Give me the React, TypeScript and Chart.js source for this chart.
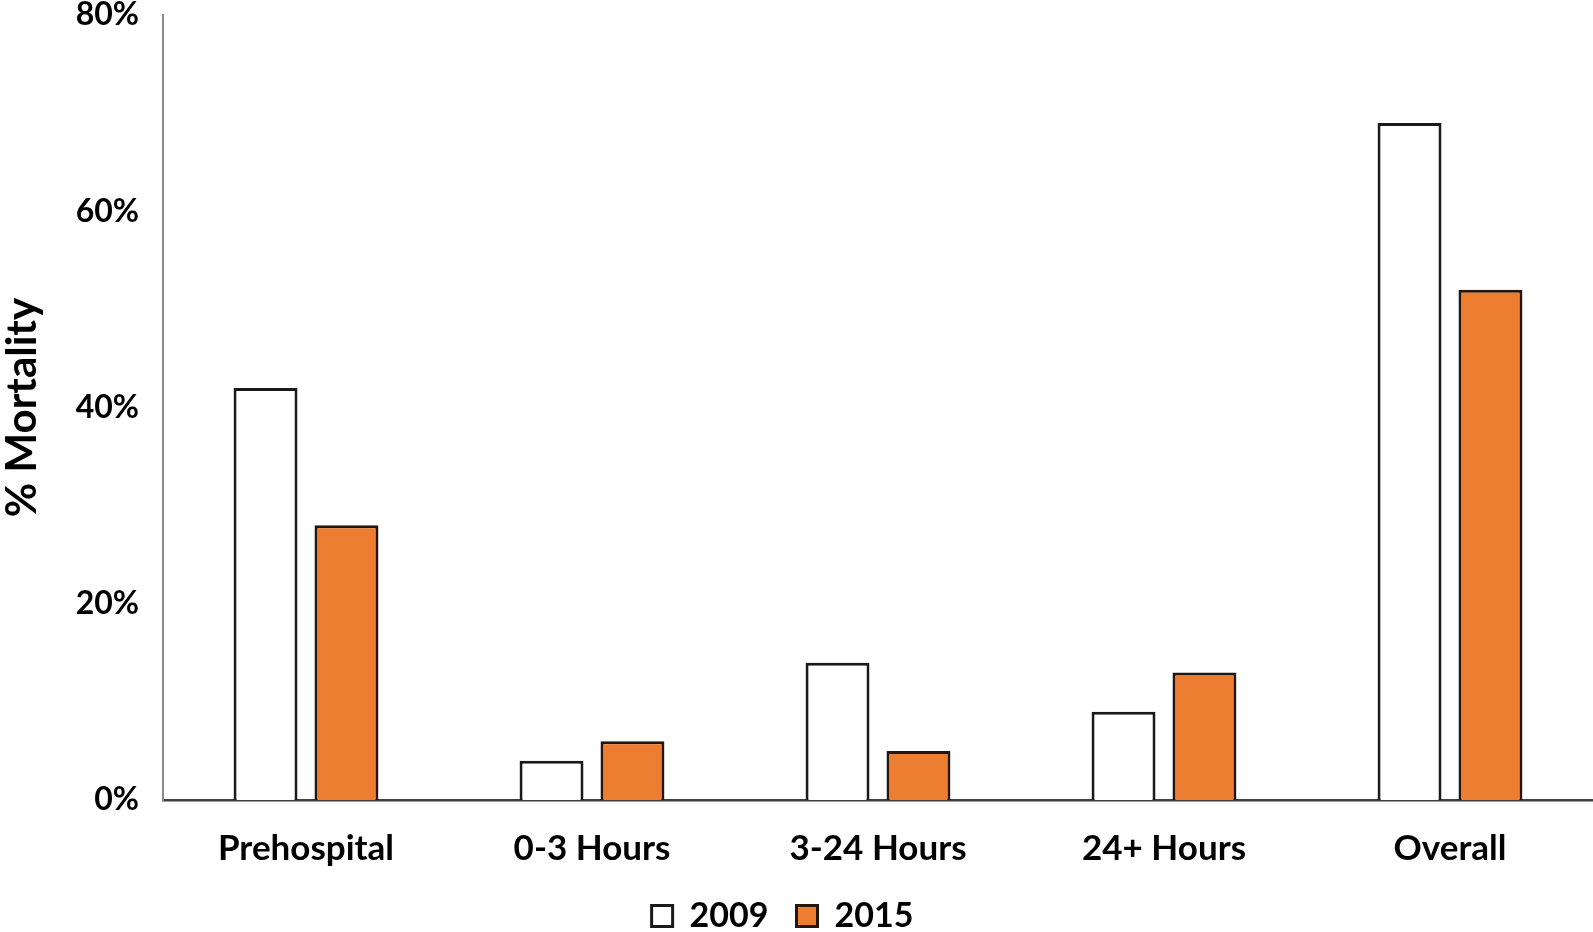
import React, { useEffect, useRef } from "react";
import { Chart, registerables } from "chart.js";

Chart.register(...registerables);

const categories = ["Prehospital", "0-3 Hours", "3-24 Hours", "24+ Hours", "Overall"];
const values2009 = [42, 4, 14, 9, 69];
const values2015 = [28, 6, 5, 13, 52];
const seriesNames = ["2009", "2015"];
const yTicks = [0, 20, 40, 60, 80];

const FONT = "Lato, 'Open Sans', sans-serif";

const legendShift = {
  id: "legendShift",
  afterLayout(chart: any) {
    if (chart.legend) {
      chart.legend.left -= 14;
      chart.legend.right -= 14;
    }
  },
};

export default function App() {
  const ref = useRef<HTMLCanvasElement | null>(null);

  useEffect(() => {
    document.body.style.margin = "0";
    const canvas = ref.current;
    if (!canvas) return;
    const chart = new Chart(canvas, {
      type: "bar",
      data: {
        labels: categories,
        datasets: [
          {
            label: seriesNames[0],
            data: values2009,
            backgroundColor: "#ffffff",
            borderColor: "#1a1a1a",
            borderWidth: 3,
            barPercentage: 0.79,
            categoryPercentage: 0.566,
          },
          {
            label: seriesNames[1],
            data: values2015,
            backgroundColor: "#ED7D31",
            borderColor: "#24160c",
            borderWidth: 3,
            barPercentage: 0.79,
            categoryPercentage: 0.566,
          },
        ],
      },
      plugins: [legendShift],
      options: {
        responsive: false,
        animation: false,
        layout: { padding: { left: 0, right: 0, top: 0, bottom: -11 } },
        plugins: {
          tooltip: { enabled: false },
          legend: {
            position: "bottom",
            labels: {
              color: "#000",
              font: { family: FONT, size: 34, weight: "bold", lineHeight: 1 },
              boxWidth: 21,
              boxHeight: 21,
              padding: 28,
            },
          },
        },
        scales: {
          x: {
            grid: { display: false, drawTicks: false },
            border: { display: true, color: "#404040", width: 2.5 },
            ticks: {
              color: "#000",
              padding: 28,
              font: { family: FONT, size: 35, weight: "bold", lineHeight: 1.2 },
            },
            afterFit: (scale: any) => {
              scale.height = 71;
            },
          },
          y: {
            min: 0,
            max: 80,
            afterBuildTicks: (axis: any) => {
              axis.ticks = yTicks.map((v) => ({ value: v }));
            },
            afterFit: (scale: any) => {
              scale.width = 163;
              scale.paddingTop = 15;
              scale.paddingBottom = 0;
            },
            grid: { display: false, drawTicks: false },
            border: { display: true, color: "#8a8a8a", width: 2 },
            ticks: {
              color: "#000",
              padding: 24,
              font: { family: FONT, size: 32, weight: "bold", lineHeight: 1 },
              callback: (v: any) => v + "%",
            },
            title: {
              display: true,
              text: "% Mortality",
              color: "#000",
              padding: { top: 1, bottom: 5 },
              font: { family: FONT, size: 42, weight: "bold", lineHeight: 1 },
            },
          },
        },
      },
    });
    return () => chart.destroy();
  }, []);

  return (
    <div style={{ width: 1593, height: 932, background: "#fff" }}>
      <canvas ref={ref} width={1593} height={932} style={{ display: "block" }} />
    </div>
  );
}
